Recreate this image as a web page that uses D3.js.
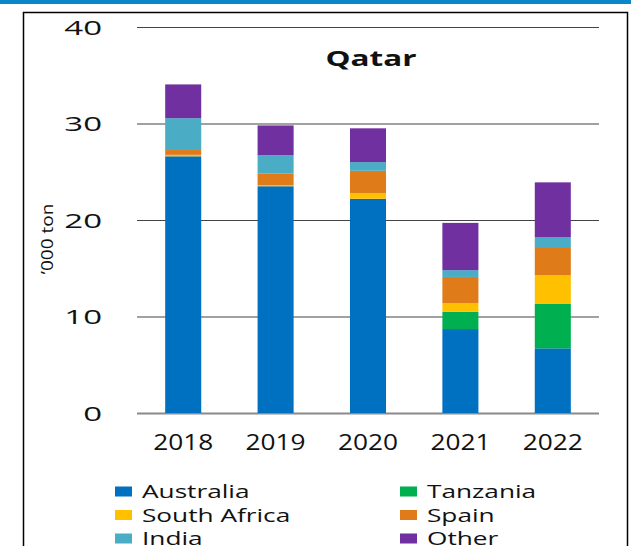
<!DOCTYPE html>
<html>
<head>
<meta charset="utf-8">
<script src="https://cdn.jsdelivr.net/npm/d3@7"></script>
<style>
  body { margin: 0; background: #fff; }
  text { font-family: 'Open Sans', sans-serif; fill: #111; }
</style>
</head>
<body>
<svg id="chart" width="631" height="546"></svg>
<script>
// values, '000 ton
const years = ['2018', '2019', '2020', '2021', '2022'];
const australia = [26.6, 23.5, 22.2, 8.7, 6.7];
const tanzania = [0, 0, 0, 1.8, 4.6];
const southAfrica = [0.15, 0.1, 0.6, 0.9, 3.0];
const spain = [0.5, 1.2, 2.3, 2.7, 2.8];
const india = [3.3, 1.9, 0.9, 0.7, 1.1];
const other = [3.5, 3.1, 3.5, 4.9, 5.7];
const yTicks = [0, 10, 20, 30, 40];

const seriesNames = ['Australia', 'Tanzania', 'South Africa', 'Spain', 'India', 'Other'];
const seriesValues = [australia, tanzania, southAfrica, spain, india, other];
const colors = ['#0070c0', '#00b050', '#ffc000', '#e07b1a', '#4bacc6', '#7030a0'];

const width = 631;
const height = 546;
const plotLeft = 137;
const plotRight = 599;
const plotTop = 27;
const plotBottom = 413;

const svg = d3.select('#chart');

// blue strip on top and the frame
svg.append('rect')
  .attr('x', 0).attr('y', 0)
  .attr('width', width).attr('height', 4)
  .attr('fill', '#0b87c9');

svg.append('rect')
  .attr('x', 23.5).attr('y', 12.5)
  .attr('width', 604).attr('height', 600)
  .attr('fill', 'none')
  .attr('stroke', '#000')
  .attr('stroke-width', 1.5);

const table = years.map((year, i) => {
  const row = { year };
  seriesNames.forEach((name, j) => { row[name] = seriesValues[j][i]; });
  return row;
});

const stacked = d3.stack().keys(seriesNames)(table);

const xscale = d3.scaleBand()
  .domain(years)
  .range([plotLeft, plotRight])
  .paddingInner(0.61)
  .paddingOuter(0.305);

const yscale = d3.scaleLinear()
  .domain([0, 40])
  .range([plotBottom, plotTop]);

const color = d3.scaleOrdinal()
  .domain(seriesNames)
  .range(colors);

// y axis with gridlines
const ySx = 1.65;
const leftAxis = d3.axisLeft(yscale)
  .tickValues(yTicks)
  .tickSize(-(plotRight - plotLeft))
  .tickPadding(35 / ySx);

const yAxis = svg.append('g')
  .attr('transform', `translate(${plotLeft}, 0)`)
  .call(leftAxis);

yAxis.select('.domain').remove();
yAxis.selectAll('line')
  .attr('stroke', (d) => d === 0 ? '#8a8a8a' : '#444')
  .attr('stroke-width', (d) => d === 0 ? 2 : 1.2);
yAxis.selectAll('text')
  .attr('transform', `scale(${ySx},1)`)
  .attr('dy', '0.36em')
  .style('font-size', '20px')
  .attr('fill', '#111');

// bars
svg.append('g')
  .selectAll('g')
  .data(stacked)
  .enter()
  .append('g')
  .attr('fill', (d) => color(d.key))
  .selectAll('rect')
  .data((d) => d)
  .enter()
  .append('rect')
  .attr('x', (d) => xscale(d.data.year))
  .attr('y', (d) => yscale(d[1]))
  .attr('width', xscale.bandwidth())
  .attr('height', (d) => yscale(d[0]) - yscale(d[1]));

// x axis labels
const xSx = 1.25;
const bottomAxis = d3.axisBottom(xscale)
  .tickSize(0)
  .tickPadding(22);

const xAxis = svg.append('g')
  .attr('transform', `translate(0, ${plotBottom})`)
  .call(bottomAxis);

xAxis.select('.domain').remove();
xAxis.selectAll('text')
  .attr('transform', `scale(${xSx},1)`)
  .attr('dy', '0.71em')
  .style('font-size', '21px')
  .attr('fill', '#111');

// title
svg.append('text')
  .text('Qatar')
  .attr('transform', 'translate(371, 66) scale(1.5,1)')
  .attr('text-anchor', 'middle')
  .style('font-size', '21px')
  .style('font-weight', 'bold')
  .attr('fill', '#000');

// y axis title
svg.append('text')
  .text('’000 ton')
  .attr('transform', 'translate(53, 239) rotate(-90) scale(1.12,1)')
  .attr('text-anchor', 'middle')
  .style('font-size', '17px');

// legend
const legend = svg.append('g');
const legendItems = legend.selectAll('g')
  .data(seriesNames)
  .enter()
  .append('g')
  .attr('transform', (d, i) => `translate(${i % 2 === 0 ? 115 : 400}, ${491.5 + Math.floor(i / 2) * 23.5})`);

legendItems.append('rect')
  .attr('x', 0)
  .attr('y', -5)
  .attr('width', 17)
  .attr('height', 10)
  .attr('fill', (d) => color(d));

legendItems.append('text')
  .text((d) => d)
  .attr('transform', 'translate(27, 0) scale(1.38,1)')
  .attr('dy', '0.36em')
  .style('font-size', '19px');
</script>
</body>
</html>
